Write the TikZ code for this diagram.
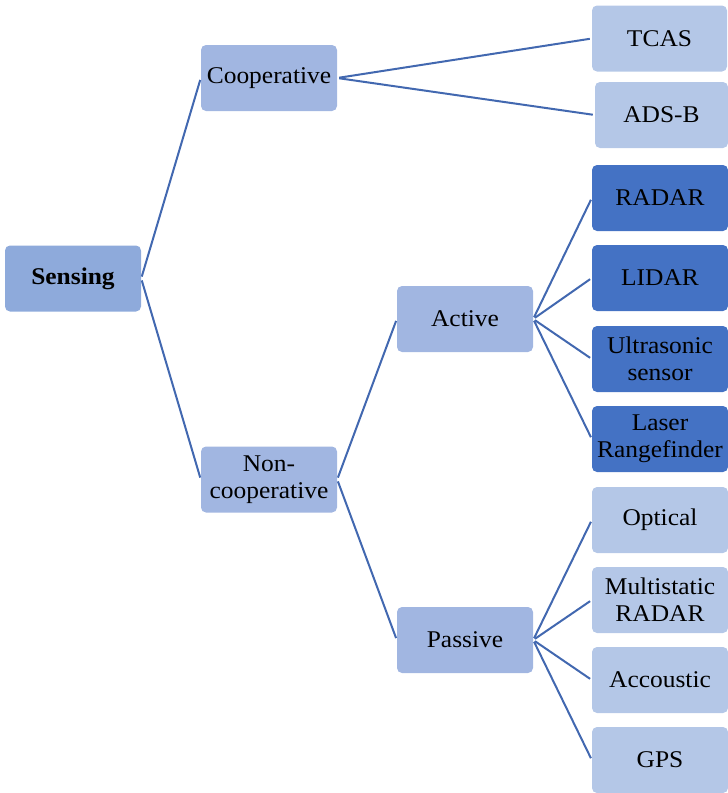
\documentclass[tikz,border=0pt]{standalone}
\usepackage{fontspec}
\setmainfont{Liberation Serif}[FakeStretch=1.06]
\definecolor{rootfill}{HTML}{8EAADB}
\definecolor{midfill}{HTML}{A1B6E1}
\definecolor{leaffill}{HTML}{B4C7E7}
\definecolor{darkfill}{HTML}{4472C4}
\definecolor{linkcol}{HTML}{4268B0}
\begin{document}
\begin{tikzpicture}[x=1pt,y=-1pt,
  box/.style={rectangle, rounded corners=5pt, draw=none, align=center,
    inner sep=0pt, minimum width=136pt, minimum height=66pt,
    font=\fontsize{24}{27}\selectfont},
  rootbox/.style={box, fill=rootfill, font=\fontsize{24}{27}\selectfont\bfseries},
  midbox/.style={box, fill=midfill},
  leafbox/.style={box, fill=leaffill},
  darkbox/.style={box, fill=darkfill},
  link/.style={draw=linkcol, line width=2pt}]
\useasboundingbox (0,0) rectangle (728,793);
\node[rootbox] (sens) at (73,278.5) {Sensing};
\node[midbox] (coop) at (269,78) {Cooperative};
\node[midbox] (ncoop) at (269,479.5) {Non-\\cooperative};
\node[midbox] (act) at (465,319) {Active};
\node[midbox] (pas) at (465,640) {Passive};
\node[leafbox, minimum width=135pt] (tcas) at (659.5,38.5) {TCAS};
\node[leafbox, minimum width=133pt] (adsb) at (661.5,115) {ADS-B};
\node[darkbox] (radar) at (660,198) {RADAR};
\node[darkbox] (lidar) at (660,278) {LIDAR};
\node[darkbox] (ultra) at (660,359) {Ultrasonic\\sensor};
\node[darkbox] (laser) at (660,439) {Laser\\Rangefinder};
\node[leafbox] (opt) at (660,520) {Optical};
\node[leafbox] (multi) at (660,600) {Multistatic\\RADAR};
\node[leafbox] (acc) at (660,680) {Accoustic};
\node[leafbox] (gps) at (660,760) {GPS};
\foreach \a/\b in {sens/coop, sens/ncoop, coop/tcas, coop/adsb, ncoop/act, ncoop/pas,
  act/radar, act/lidar, act/ultra, act/laser, pas/opt, pas/multi, pas/acc, pas/gps}
  \draw[link, shorten <=2pt, shorten >=2pt] (\a.east) -- (\b.west);
\end{tikzpicture}
\end{document}
